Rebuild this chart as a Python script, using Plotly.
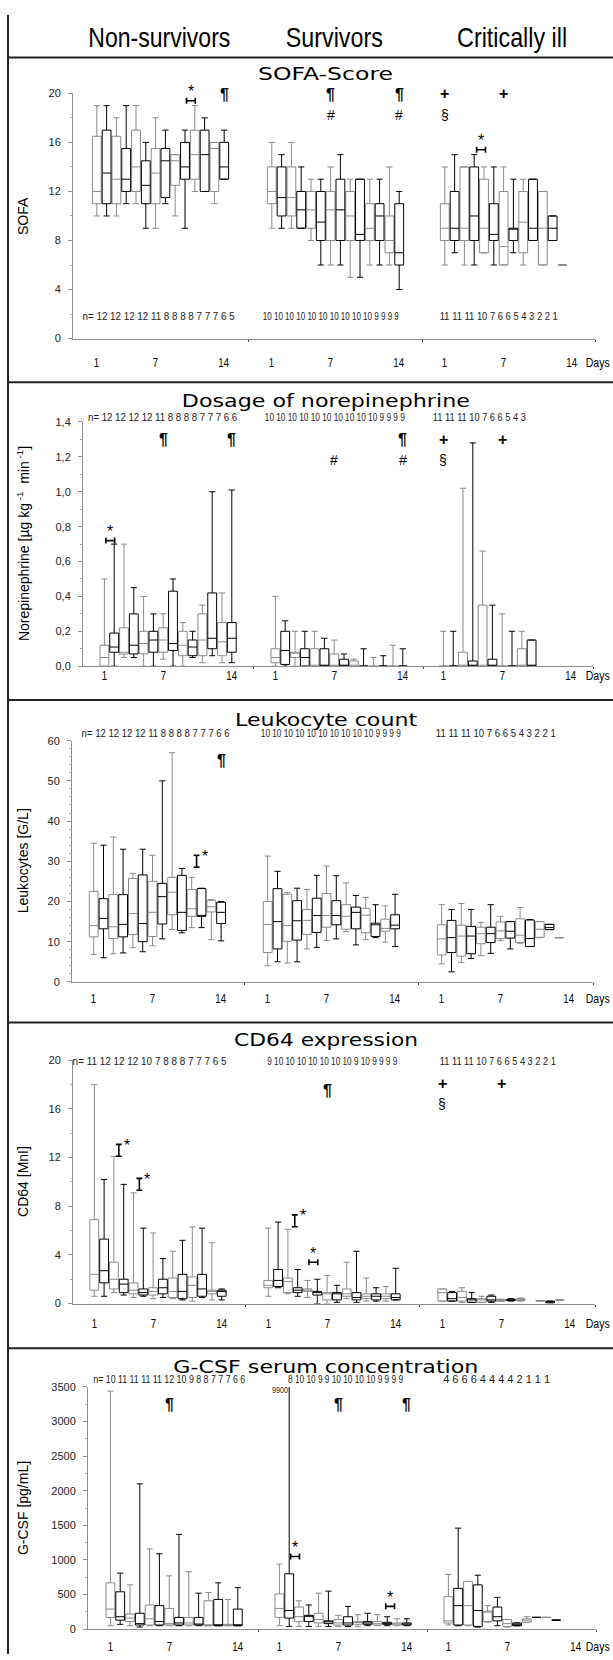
import json
import plotly.graph_objects as go

W, H = 613, 1660

# ---------------- data ----------------
# every row: [lower whisker, Q1, median, Q3, upper whisker]; one row per day
GROUPS = ["Non-survivors", "Survivors", "Critically ill"]

SOFA_NS = [[10, 11, 12, 16.5, 19], [10, 11, 13.5, 17, 19], [10, 11, 13, 16.5, 18], [11, 12, 13, 15.5, 19],
           [11, 12, 14, 17, 19], [9, 11, 12.5, 14.5, 16], [9, 11, 13.5, 15.5, 18], [11, 11.5, 14.5, 15.5, 17],
           [10, 12.5, 14.5, 15, 15], [9, 13, 14, 16, 17], [12, 13, 15, 17, 19], [12, 12, 15, 17, 18],
           [11, 12, 15.5, 16, 16], [13, 13, 14, 16, 17]]
SOFA_SU = [[9, 11, 12, 14, 16], [9, 10, 11.5, 14, 15], [9, 10, 11.5, 14, 16], [9, 9, 10.5, 12, 14],
           [8, 9, 10.5, 12, 13], [6, 8, 9.5, 12, 13], [6, 8, 10.5, 12, 14], [6, 8, 10.5, 13, 15],
           [5, 8, 10, 12, 13], [5, 8, 8.5, 13, 13], [6, 8, 9, 11, 13], [6, 8, 10, 11, 13],
           [6, 7, 8, 10, 14], [4, 6, 7, 11, 12]]
SOFA_CI = [[6, 8, 9, 11, 14], [7, 8, 9, 12, 15], [6, 8, 9, 14, 14], [6, 8, 10, 14, 15], [7, 7, 9, 13, 14],
           [6, 8, 8.5, 11, 14], [6, 6, 7.5, 12, 14], [7, 8, 9, 9, 13], [6, 7, 9.5, 12, 13], [8, 8, 9, 13, 13],
           [6, 6, 9, 12, 12], [8, 8, 9, 10, 10], [6, 6, 6, 6, 6]]

NE_NS = [[0, 0, 0.05, 0.12, 0.5], [0, 0.08, 0.11, 0.19, 0.7], [0.05, 0.07, 0.08, 0.22, 0.7],
         [0.05, 0.07, 0.12, 0.3, 0.45], [0, 0.07, 0.13, 0.2, 0.4], [0, 0.08, 0.15, 0.2, 0.3],
         [0.04, 0.08, 0.15, 0.22, 0.3], [0, 0.09, 0.13, 0.43, 0.5], [0, 0.06, 0.12, 0.2, 0.25],
         [0.05, 0.06, 0.11, 0.15, 0.2], [0.02, 0.06, 0.15, 0.3, 0.35], [0.06, 0.1, 0.16, 0.42, 1.0],
         [0.02, 0.06, 0.14, 0.25, 0.42], [0.02, 0.08, 0.16, 0.25, 1.01]]
NE_SU = [[0, 0.02, 0.05, 0.1, 0.4], [0, 0.01, 0.09, 0.2, 0.26], [0, 0.05, 0.08, 0.08, 0.2], [0, 0, 0.05, 0.1, 0.2],
         [0, 0, 0, 0.1, 0.2], [0, 0, 0, 0.1, 0.16], [0, 0, 0, 0.07, 0.15], [0, 0, 0, 0.04, 0.07],
         [0, 0, 0, 0.03, 0.04], [0, 0, 0, 0, 0.1], [0, 0, 0, 0, 0.05], [0, 0, 0, 0, 0.06],
         [0, 0, 0, 0, 0.12], [0, 0, 0, 0, 0.1]]
NE_CI = [[0, 0, 0, 0, 0.2], [0, 0, 0, 0, 0.2], [0, 0, 0, 0.08, 1.02], [0, 0, 0, 0.03, 1.28], [0, 0, 0, 0.35, 0.66],
         [0, 0, 0, 0.04, 0.35], [0, 0, 0, 0, 0.3], [0, 0, 0, 0, 0.2], [0, 0, 0, 0.1, 0.2], [0, 0, 0, 0.15, 0.15]]

LK_NS = [[6.8, 11.2, 14, 22.5, 34.5], [6, 13.2, 15.8, 20.7, 34], [7, 10.8, 13.7, 21.7, 36], [7.2, 11.2, 14.3, 21.7, 33],
         [8.5, 11.8, 17, 25.7, 27], [7.5, 10, 14.5, 26.6, 33], [9, 11.3, 17.3, 25, 31.5], [10.7, 14.4, 21.2, 24.5, 50],
         [13, 16.7, 22.3, 26, 57], [12.2, 12.8, 17.3, 26.5, 28.2], [13.5, 16.3, 18.2, 23, 26],
         [13.5, 16.3, 16.5, 23.2, 23.3], [10.5, 17.4, 18.7, 20.3, 20.5], [10.2, 14.5, 17.3, 19.8, 20]]
LK_SU = [[4, 7.3, 14.3, 20, 31.3], [5, 8.2, 15, 23.2, 27.5], [4.7, 10.1, 14, 21.8, 22.2], [5, 10.4, 15.2, 20.2, 23.3],
         [8.2, 11.8, 15.3, 18, 23], [8.6, 12.3, 16.5, 20.8, 26.5], [10.3, 13.6, 16.5, 22, 28.8],
         [10.7, 14.2, 16.5, 20.2, 26.4], [12.5, 13.1, 16.3, 19.2, 24.6], [9.2, 13.2, 17.3, 18.6, 21.5],
         [10.5, 12.2, 16.6, 18.3, 21], [11, 11.3, 14.2, 14.6, 19.2], [9.9, 12.6, 13.3, 15.6, 18.9],
         [8.8, 13.2, 14.1, 16.7, 21.8]]
LK_CI = [[4.5, 6.7, 10.7, 14.2, 19.2], [2.5, 7.3, 11, 15.3, 18], [4.8, 6.4, 11.4, 14.1, 19.5], [5.8, 7, 11.4, 13.8, 18],
         [6.5, 9.5, 12, 13.6, 14.8], [7.1, 9.8, 12, 13.6, 19.2], [10.3, 10.8, 12.7, 14.9, 16.3],
         [8.2, 10.9, 12.6, 15, 15], [9.6, 9.8, 11.6, 15.7, 18.5], [8.8, 8.8, 10.8, 15.4, 15.5],
         [11, 11.1, 13.1, 15, 15], [13, 13, 13.5, 14.3, 14.3], [11, 11, 11, 11, 11]]

CD_NS = [[0.6, 1.1, 2.4, 6.9, 18], [0.6, 1.7, 2.7, 5.3, 10.2], [0.9, 1.2, 2.0, 3.4, 12.1], [0.7, 0.9, 1.6, 2.0, 9.8],
         [0.5, 0.8, 1.1, 1.7, 9.1], [0.6, 0.7, 0.9, 1.2, 6.2], [0.4, 0.7, 1.0, 1.3, 5.8], [0.5, 0.8, 1.3, 2.0, 3.7],
         [0.4, 0.5, 1.0, 2.1, 4.3], [0.3, 0.4, 1.0, 2.4, 5.2], [0.2, 0.5, 1.5, 2.2, 6.3], [0.5, 0.6, 1.2, 2.4, 6.2],
         [0.3, 0.8, 1.0, 1.1, 5.0], [0.3, 0.6, 1.0, 1.1, 1.2]]
CD_SU = [[0.6, 1.3, 1.5, 1.9, 6.2], [1.3, 1.4, 1.9, 2.8, 6.7], [0.8, 0.9, 1.8, 2.1, 6.1], [0.6, 0.9, 1.1, 1.3, 2.8],
         [0.5, 1.0, 1.1, 1.2, 1.9], [0, 0.7, 0.9, 1.0, 2.0], [0, 0.3, 0.8, 0.9, 2.3], [0.1, 0.3, 0.8, 0.9, 1.5],
         [0.4, 0.6, 0.8, 1.2, 3.4], [0.1, 0.3, 0.5, 0.9, 4.3], [0.2, 0.4, 0.6, 0.8, 2.1], [0.2, 0.3, 0.6, 0.8, 1.3],
         [0.2, 0.4, 0.6, 0.8, 1.4], [0.3, 0.3, 0.5, 0.8, 2.9]]
CD_CI = [[0.2, 0.2, 0.9, 1.2, 1.2], [0.2, 0.2, 0.4, 0.9, 1.0], [0.1, 0.2, 0.5, 1.0, 1.3], [0.1, 0.1, 0.3, 0.4, 0.9],
         [0.1, 0.1, 0.3, 0.4, 0.6], [0.1, 0.2, 0.3, 0.6, 0.7], [0.2, 0.2, 0.25, 0.35, 0.35],
         [0.2, 0.25, 0.3, 0.35, 0.4], [0.2, 0.25, 0.3, 0.4, 0.45], None, [0.2, 0.2, 0.25, 0.25, 0.25],
         [0.05, 0.05, 0.15, 0.2, 0.2], [0.3, 0.3, 0.3, 0.3, 0.3]]

GC_NS = [[50, 170, 290, 670, 3440], [70, 130, 180, 540, 810], [50, 110, 160, 220, 640], [30, 60, 80, 230, 2100],
         [50, 60, 150, 350, 1160], [50, 60, 110, 340, 1090], [50, 60, 80, 300, 770], [50, 60, 90, 170, 1370],
         [50, 60, 90, 170, 830], [50, 60, 70, 170, 520], [50, 50, 60, 410, 530], [50, 50, 60, 430, 670],
         [50, 50, 60, 70, 430], [50, 50, 60, 290, 600]]
GC_SU = [[50, 170, 300, 510, 940], [40, 160, 270, 800, 9900], [40, 110, 180, 320, 410], [40, 110, 190, 200, 350],
         [40, 90, 140, 230, 520], [40, 80, 110, 120, 550], [40, 60, 90, 140, 200], [40, 60, 90, 180, 330],
         [40, 70, 100, 110, 210], [50, 70, 90, 110, 230], [50, 60, 80, 110, 210], [50, 70, 80, 100, 180],
         [50, 60, 80, 90, 150], [50, 60, 70, 90, 150]]
GC_CI = [[60, 90, 120, 470, 790], [50, 60, 340, 590, 1460], [50, 60, 340, 690, 690], [30, 40, 270, 640, 780],
         [100, 110, 260, 260, 340], [50, 120, 180, 320, 460], [30, 40, 80, 140, 140], [50, 50, 60, 90, 90],
         [100, 100, 130, 150, 180], [170, 170, 170, 170, 170], [170, 170, 170, 170, 170], [130, 130, 130, 130, 130]]

# patients per day
N_SOFA = [[12, 12, 12, 12, 11, 8, 8, 8, 8, 7, 7, 7, 6, 5],
          [10, 10, 10, 10, 10, 10, 10, 10, 10, 10, 9, 9, 9, 9],
          [11, 11, 11, 10, 7, 6, 6, 5, 4, 3, 2, 2, 1]]
N_NE = [[12, 12, 12, 12, 11, 8, 8, 8, 8, 7, 7, 7, 6, 6],
        [10, 10, 10, 10, 10, 10, 10, 10, 10, 10, 9, 9, 9, 9],
        [11, 11, 11, 10, 7, 6, 6, 5, 4, 3]]
N_LK = [[12, 12, 12, 12, 11, 8, 8, 8, 8, 7, 7, 7, 6, 6],
        [10, 10, 10, 10, 10, 10, 10, 10, 10, 10, 9, 9, 9, 9],
        [11, 11, 11, 10, 7, 6, 6, 5, 4, 3, 2, 2, 1]]
N_CD = [[11, 12, 12, 12, 10, 7, 8, 8, 8, 7, 7, 7, 6, 5],
        [9, 10, 10, 10, 10, 10, 10, 10, 9, 10, 9, 9, 9, 9],
        [11, 11, 11, 10, 7, 6, 6, 5, 4, 3, 2, 2, 1]]
N_GC = [[10, 11, 11, 11, 11, 12, 10, 9, 8, 8, 7, 7, 7, 6, 6],
        [8, 10, 10, 9, 9, 10, 10, 10, 10, 9, 9, 9, 9],
        [4, 6, 6, 6, 4, 4, 4, 4, 2, 1, 1, 1]]

DAY_TICKS = [1, 7, 14]

# significance marks: (symbol, group, day, value)
MARK_SOFA = [("¶", 0, 14, 19.9), ("¶", 1, 7, 19.9), ("#", 1, 7, 18.2), ("¶", 1, 14, 19.9), ("#", 1, 14, 18.2),
             ("+", 2, 1, 20.0), ("§", 2, 1, 18.2), ("+", 2, 7, 20.0)]
MARK_NE = [("¶", 0, 7, 1.30), ("¶", 0, 14, 1.30), ("#", 1, 7, 1.18), ("¶", 1, 14, 1.30), ("#", 1, 14, 1.18),
           ("+", 2, 1, 1.30), ("§", 2, 1, 1.18), ("+", 2, 7, 1.30)]
MARK_LK = [("¶", 0, 14, 55)]
MARK_CD = [("¶", 1, 7, 17.5), ("+", 2, 1, 18.1), ("§", 2, 1, 16.4), ("+", 2, 7, 18.1)]
MARK_GC = [("¶", 0, 7, 3250), ("¶", 1, 7, 3250), ("¶", 1, 14, 3250)]
# "*" brackets: (group, day, value, orientation)
STAR_SOFA = [(0, 10.6, 19.4, "h"), (2, 4.7, 15.4, "h")]
STAR_NE = [(0, 1.6, 0.72, "h")]
STAR_LK = [(0, 11.5, 30, "v")]
STAR_CD = [(0, 3.5, 12.6, "v"), (0, 5.6, 9.8, "v"), (1, 3.7, 6.8, "v"), (1, 5.6, 3.4, "h")]
STAR_GC = [(1, 2.6, 1050, "h"), (1, 12.3, 330, "h")]

# ---------------- layout constants (pixels) ----------------
SLOT = 9.8
PANELS = [
    dict(data=(SOFA_NS, SOFA_SU, SOFA_CI), n=N_SOFA, marks=MARK_SOFA, stars=STAR_SOFA,
         title="SOFA-Score", title_w=135, ytitle="SOFA", top=88, bot=335, ymax=20,
         ticks=[0, 4, 8, 12, 16, 20], minor=2, fmt="{:.0f}",
         XL=73, X1=96.8, off=(0, 175, 348), XR=595, title_y=68, n_y=313, day_y=360,
         n_box=((159, 152), (331, 136), (499, 118))),
    dict(data=(NE_NS, NE_SU, NE_CI), n=N_NE, marks=MARK_NE, stars=STAR_NE,
         title="Dosage of norepinephrine", title_w=288,
         ytitle="Norepinephrine [µg kg<sup> -1</sup>  min<sup> -1</sup>]", top=419, bot=665, ymax=1.4,
         ticks=[0, 0.2, 0.4, 0.6, 0.8, 1.0, 1.2, 1.4], minor=0.1, fmt="comma",
         XL=83, X1=104.4, off=(0, 171, 339), XR=593, title_y=397, n_y=414, day_y=675,
         n_box=((163, 149), (335, 140), (479, 93))),
    dict(data=(LK_NS, LK_SU, LK_CI), n=N_LK, marks=MARK_LK, stars=STAR_LK,
         title="Leukocyte count", title_w=182, ytitle="Leukocytes [G/L]", top=740, bot=983, ymax=60,
         ticks=[0, 10, 20, 30, 40, 50, 60], minor=2, fmt="{:.0f}",
         XL=72, X1=93.7, off=(0, 174, 348), XR=593, title_y=719, n_y=733, day_y=1000,
         n_box=((156, 148), (331, 140), (496, 120))),
    dict(data=(CD_NS, CD_SU, CD_CI), n=N_CD, marks=MARK_CD, stars=STAR_CD,
         title="CD64 expression", title_w=184, ytitle="CD64 [MnI]", top=1062, bot=1307, ymax=20,
         ticks=[0, 4, 8, 12, 16, 20], minor=2, fmt="{:.0f}",
         XL=73, X1=94.3, off=(0, 174, 348), XR=595, title_y=1041, n_y=1063, day_y=1328,
         n_box=((150, 154), (332, 130), (498, 116))),
    dict(data=(GC_NS, GC_SU, GC_CI), n=N_GC, marks=MARK_GC, stars=STAR_GC,
         title="G-CSF serum concentration", title_w=305, ytitle="G-CSF [pg/mL]", top=1391, bot=1635, ymax=3500,
         ticks=[0, 500, 1000, 1500, 2000, 2500, 3000, 3500], minor=250, fmt="{:.0f}",
         XL=88, X1=110.4, off=(0, 169, 338), XR=596, title_y=1370, n_y=1384, day_y=1653,
         n_box=((169, 152), (345, 115), (497, 107))),
]
SEPARATORS = [52, 379, 699, 1024, 1352]
HEADER = [(159, 142), (334, 97), (512, 110)]  # centre x, text width

SANS = "Liberation Sans, Arial, sans-serif"
WIDE = "DejaVu Sans, Verdana, sans-serif"
GRAY = "#8a8a8a"
AX = "#8f8f8f"


def pxx(x):
    return x / W


def pxy(y):
    return 1 - y / H


fig = go.Figure()
layout = dict(width=W, height=H, margin=dict(l=0, r=0, t=0, b=0), paper_bgcolor="white",
              plot_bgcolor="rgba(0,0,0,0)", showlegend=False, boxmode="overlay")
annotations, shapes = [], []
fits = {}  # annotation index -> ["w", width] or ["s", scale]


def add_ann(fit=None, **kw):
    annotations.append(kw)
    if fit is not None:
        fits[len(annotations) - 1] = fit


for k, P in enumerate(PANELS, start=1):
    xa = "x" if k == 1 else f"x{k}"
    ya = "y" if k == 1 else f"y{k}"
    goff = [o / SLOT for o in P["off"]]
    r0 = 1 - (P["X1"] - P["XL"]) / SLOT
    r1 = 1 + (P["XR"] - P["X1"]) / SLOT
    dividers = [(14 + goff[1] + 1) / 2, (14 + goff[1] + goff[2] + 1) / 2, r1]
    ypp = P["ymax"] / (P["bot"] - P["top"])  # data units per pixel

    # boxes, split into black and grey traces
    for parity, col in ((1, GRAY), (0, "black")):
        xs, lo, q1, me, q3, hi = [], [], [], [], [], []
        for g, rows in enumerate(P["data"]):
            for d, row in enumerate(rows, start=1):
                if row is None or d % 2 != parity:
                    continue
                xs.append(d + goff[g])
                lo.append(row[0]); q1.append(row[1]); me.append(row[2]); q3.append(row[3]); hi.append(row[4])
        fig.add_trace(go.Box(x=xs, lowerfence=lo, q1=q1, median=me, q3=q3, upperfence=hi,
                             width=0.9, whiskerwidth=0.7, boxpoints=False,
                             line=dict(color=col, width=1), fillcolor="rgba(255,255,255,0)",
                             hoverinfo="skip", xaxis=xa, yaxis=ya))

    if P["fmt"] == "comma":
        ttext = [f"{v:.1f}".replace(".", ",") for v in P["ticks"]]
    else:
        ttext = [P["fmt"].format(v) for v in P["ticks"]]

    key = "" if k == 1 else str(k)
    layout["xaxis" + key] = dict(domain=[pxx(P["XL"]), pxx(P["XR"])], range=[r0, r1], anchor=ya,
                                 showline=True, linecolor=AX, linewidth=1, showgrid=False, zeroline=False,
                                 tickmode="array", tickvals=dividers, ticks="outside", ticklen=2,
                                 tickcolor="#444", showticklabels=False, fixedrange=True)
    layout["yaxis" + key] = dict(domain=[pxy(P["bot"]), pxy(P["top"])], range=[0, P["ymax"]], anchor=xa,
                                 showline=True, linecolor=AX, linewidth=1, showgrid=False, zeroline=False,
                                 tickmode="array", tickvals=P["ticks"], ticktext=ttext, ticks="outside",
                                 ticklen=4, tickcolor=AX, ticklabelstandoff=5,
                                 tickfont=dict(family=SANS, size=11, color="#222"),
                                 minor=dict(ticks="outside", ticklen=2, tickcolor="#aaa", dtick=P["minor"],
                                            tick0=0, showgrid=False),
                                 fixedrange=True)

    # panel title and y title
    add_ann(fit=["w", P["title_w"]], text=P["title"], x=pxx(326), y=pxy(P["title_y"]), xref="paper",
            yref="paper", showarrow=False, xanchor="center", yanchor="middle",
            font=dict(family=WIDE, size=18, color="black"))
    add_ann(text=P["ytitle"], x=pxx(23), y=pxy((P["top"] + P["bot"]) / 2), xref="paper",
            yref="paper", showarrow=False, textangle=-90, xanchor="center", yanchor="middle",
            font=dict(family=SANS, size=14, color="black"))

    # day labels
    for g in range(3):
        for d in DAY_TICKS:
            add_ann(fit=["s", 0.8], text=str(d), x=d + goff[g], y=pxy(P["day_y"]), xref=xa, yref="paper",
                    showarrow=False, xanchor="center", yanchor="middle",
                    font=dict(family=SANS, size=12, color="black"))
    add_ann(fit=["w", 24], text="Days", x=pxx(597), y=pxy(P["day_y"]), xref="paper", yref="paper",
            showarrow=False, xanchor="center", yanchor="middle",
            font=dict(family=SANS, size=12, color="black"))

    # n labels, one text row per group
    for g in range(3):
        row = " ".join(str(v) for v in P["n"][g])
        if g == 0:
            row = "n= " + row
        cx, wd = P["n_box"][g]
        add_ann(fit=["w", wd], text=row, x=pxx(cx), y=pxy(P["n_y"]), xref="paper", yref="paper",
                showarrow=False, xanchor="center", yanchor="middle",
                font=dict(family=SANS, size=10, color="#222"))

    # symbols
    for sym, g, d, v in P["marks"]:
        bold = sym in ("¶", "+")
        add_ann(text=f"<b>{sym}</b>" if bold else sym, x=d + goff[g], y=v, xref=xa, yref=ya,
                showarrow=False, xanchor="center", yanchor="middle",
                font=dict(family=SANS, size=16 if bold else 14, color="black"))
    for g, d, v, orient in P["stars"]:
        xc = d + goff[g]
        if orient == "h":
            hw, hh = 0.45, 3 * ypp
            segs = [(xc - hw, v, xc + hw, v), (xc - hw, v - hh, xc - hw, v + hh), (xc + hw, v - hh, xc + hw, v + hh)]
            add_ann(text="*", x=xc, y=v, yshift=9, xref=xa, yref=ya, showarrow=False,
                    xanchor="center", yanchor="middle", font=dict(family=SANS, size=16, color="black"))
        else:
            hw, hh = 0.3, 6 * ypp
            segs = [(xc, v - hh, xc, v + hh), (xc - hw, v - hh, xc + hw, v - hh), (xc - hw, v + hh, xc + hw, v + hh)]
            add_ann(text="*", x=xc, xshift=8, y=v, yshift=5, xref=xa, yref=ya,
                    showarrow=False, xanchor="center", yanchor="middle",
                    font=dict(family=SANS, size=16, color="black"))
        for x0, y0, x1, y1 in segs:
            shapes.append(dict(type="line", xref=xa, yref=ya, x0=x0, y0=y0, x1=x1, y1=y1,
                               line=dict(color="black", width=1.6)))

# extra label for the clipped whisker in G-CSF survivors
add_ann(fit=["s", 0.8], text="9900", x=1.1 + PANELS[4]["off"][1] / SLOT, y=pxy(1394), xref="x5", yref="paper",
        showarrow=False, xanchor="center", yanchor="middle",
        font=dict(family=SANS, size=9, color="#222"))

# header
for name, (cx, wd) in zip(GROUPS, HEADER):
    add_ann(fit=["w", wd], text=name, x=pxx(cx), y=pxy(32), xref="paper", yref="paper", showarrow=False,
            xanchor="center", yanchor="middle", font=dict(family=SANS, size=28, color="black"))

# frame lines
for sy in SEPARATORS:
    shapes.append(dict(type="line", xref="paper", yref="paper", x0=pxx(8), x1=1, y0=pxy(sy), y1=pxy(sy),
                       line=dict(color="#222", width=2)))
shapes.append(dict(type="line", xref="paper", yref="paper", x0=pxx(8), x1=pxx(8), y0=pxy(9), y1=0,
                   line=dict(color="#222", width=2)))

layout["annotations"] = annotations
layout["shapes"] = shapes
fig.update_layout(**layout)

POST = """
document.body.style.margin = '0';
document.documentElement.style.overflow = 'hidden';
var FITS = %s;
function fitTexts() {
  document.querySelectorAll('g.annotation').forEach(function (g) {
    var i = g.getAttribute('data-index');
    if (!(i in FITS)) return;
    var t = g.querySelector('text.annotation-text');
    if (!t) return;
    if (!t.dataset.nat) { t.dataset.nat = t.getComputedTextLength(); }
    var f = FITS[i];
    var w = f[0] === 'w' ? f[1] : parseFloat(t.dataset.nat) * f[1];
    t.setAttribute('textLength', w);
    t.setAttribute('lengthAdjust', 'spacingAndGlyphs');
  });
}
fitTexts();
var gd = document.getElementById('{plot_id}');
if (gd && gd.on) { gd.on('plotly_afterplot', fitTexts); }
""" % json.dumps({str(k): v for k, v in fits.items()})

fig.write_html("out.html", post_script=POST, config={"displayModeBar": False, "staticPlot": True})
